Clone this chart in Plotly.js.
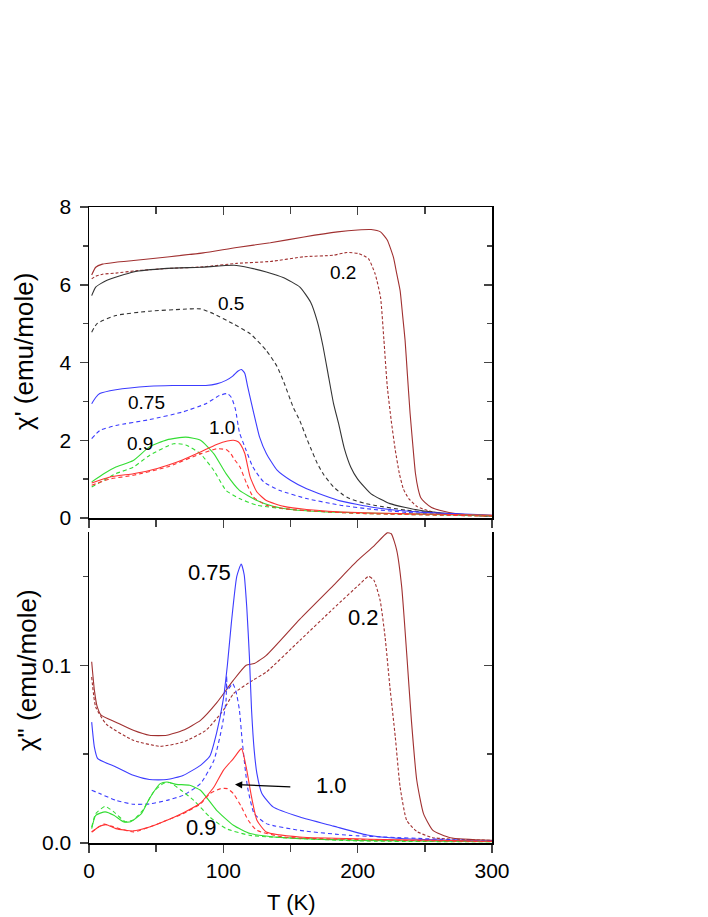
<!DOCTYPE html>
<html><head><meta charset="utf-8">
<script src="https://cdn.plot.ly/plotly-3.0.1.min.js"></script>
<style>html,body{margin:0;padding:0;background:#fff}#chart{width:708px;height:917px}</style>
</head><body><div id="chart"></div>
<script>
// ---------- chi' (top panel) ----------
var T_top_02_s = [2,5,10,20,35,60,85,110,135,160,185,200,210,217,222,226.6,229,231.6,233.5,235.3,237,239,241,243,245,247,250,255,261,275,300];
var Y_top_02_s = [6.25,6.45,6.53,6.58,6.63,6.72,6.82,6.96,7.08,7.23,7.36,7.41,7.42,7.36,7.15,6.71,6.3,5.85,5.2,4.57,3.7,2.7,1.9,1.15,0.75,0.52,0.4,0.27,0.2,0.1,0.05];
var T_top_02_d = [2,5,10,20,35,60,85,110,135,160,182,192,201,208,213,217,219.5,222,225,228,231,234,238,244,252,261,280,300];
var Y_top_02_d = [6.15,6.22,6.27,6.3,6.36,6.42,6.46,6.55,6.6,6.72,6.76,6.83,6.8,6.67,6.28,5.68,4.6,3.4,2.5,1.75,1.15,0.75,0.5,0.3,0.19,0.12,0.07,0.04];
var T_top_05_s = [2,5,13,33,58,83,108,120,132,145,157,165,170,174,178,182,186,190,195,200,210,224,246,270,300];
var Y_top_05_s = [5.72,5.94,6.11,6.33,6.42,6.45,6.5,6.43,6.33,6.18,5.94,5.55,5.05,4.45,3.7,2.95,2.4,1.8,1.3,1.0,0.62,0.37,0.2,0.11,0.06];
var T_top_05_d = [2,6,20,45,70,83,93,107,120,132,140,145,152,157,162,165,170,175,182,189,194,205,212,236,270,300];
var Y_top_05_d = [4.78,5.0,5.21,5.32,5.37,5.38,5.25,5.0,4.74,4.31,3.9,3.5,2.85,2.5,2.05,1.8,1.4,1.1,0.8,0.6,0.5,0.38,0.33,0.2,0.1,0.05];
var T_top_075_s = [2,5,8,20,45,62,87,95,102,107,111,113.5,116,118,121,124,127,132,140,150,162,175,187,212,246,300];
var Y_top_075_s = [2.94,3.1,3.2,3.3,3.39,3.41,3.41,3.45,3.54,3.65,3.78,3.82,3.72,3.4,2.94,2.5,2.08,1.66,1.23,0.97,0.75,0.58,0.44,0.27,0.15,0.07];
var T_top_075_d = [2,8,20,45,70,87,97,103,106,109,112,117,122,130,142,162,187,212,246,300];
var Y_top_075_d = [2.04,2.25,2.38,2.53,2.73,2.94,3.15,3.2,3.1,2.8,2.2,1.74,1.31,0.93,0.71,0.5,0.33,0.22,0.12,0.06];
var T_top_09_s = [2,11,20,33,45,58,72,83,93,102,112,125,137,150,182,246,300];
var Y_top_09_s = [0.93,1.14,1.31,1.48,1.83,2.01,2.08,2.0,1.65,1.14,0.71,0.45,0.3,0.22,0.15,0.1,0.06];
var T_top_09_d = [2,11,20,33,45,63,72,83,93,102,112,125,150,200,300];
var Y_top_09_d = [0.8,0.97,1.14,1.31,1.61,1.91,1.88,1.65,1.22,0.71,0.5,0.33,0.22,0.12,0.05];
var T_top_10_s = [2,15,33,45,58,70,83,95,103,107.5,111,113,116,118,120,125,132,145,162,200,300];
var Y_top_10_s = [0.9,1.05,1.14,1.22,1.35,1.5,1.7,1.89,1.98,2.0,1.96,1.88,1.66,1.35,1.05,0.67,0.45,0.3,0.22,0.14,0.07];
var T_top_10_d = [2,15,33,58,83,95,102,105,108,112.4,117.4,122.3,132,150,200,300];
var Y_top_10_d = [0.84,1.0,1.1,1.31,1.65,1.78,1.76,1.68,1.52,1.31,0.88,0.54,0.33,0.22,0.12,0.05];

// ---------- chi'' (bottom panel) ----------
var T_bot_02_s = [2,4,6,9,20,33,45,58,70,83,95,107.5,117,123,132,157,182,200,212,222,225,229,232.8,236.5,240,244,249,256,269,300];
var Y_bot_02_s = [0.102,0.086,0.077,0.072,0.068,0.0634,0.0606,0.0606,0.0634,0.069,0.0788,0.0916,0.1,0.101,0.1056,0.126,0.145,0.159,0.167,0.1745,0.174,0.165,0.144,0.1066,0.069,0.0353,0.0165,0.0071,0.003,0.0015];
var T_bot_02_d = [2,5,13,33,53,70,87,100,107.5,122,132,157,182,202,208,212,216.7,220.4,224,228,231.6,236.5,244,256,300];
var Y_bot_02_d = [0.0934,0.0765,0.0668,0.0578,0.0544,0.0568,0.0634,0.0747,0.084,0.0916,0.0962,0.114,0.132,0.146,0.150,0.148,0.1366,0.116,0.0878,0.0597,0.0315,0.0128,0.0065,0.003,0.0015];
var T_bot_075_s = [2,4,6.5,20,33,45,58,70,83,90,95,100,103,106,110,113.3,115.5,117.5,119.4,121,123,125,128.6,137,157,182,207,232,300];
var Y_bot_075_s = [0.068,0.054,0.0475,0.0428,0.0381,0.0357,0.0357,0.038,0.0437,0.049,0.062,0.081,0.1,0.124,0.15,0.157,0.151,0.132,0.105,0.075,0.052,0.039,0.028,0.0203,0.0146,0.0095,0.0045,0.0025,0.001];
var T_bot_075_d = [2,8,20,33,45,58,70,83,93,99,102,102.5,103,107,109.5,112,114,118,123,132,157,194,300];
var Y_bot_075_d = [0.0297,0.0278,0.024,0.0218,0.022,0.024,0.0268,0.0334,0.0465,0.0653,0.08,0.094,0.086,0.0897,0.085,0.0747,0.0578,0.0315,0.0165,0.0109,0.0071,0.0043,0.001];
var T_bot_09_s = [2,5,12,18.5,26,31,39,45,53,58,65,75,83,95,107.5,120,145,200,300];
var Y_bot_09_s = [0.0081,0.0156,0.0175,0.0156,0.0118,0.012,0.0165,0.025,0.0334,0.0343,0.033,0.0325,0.0297,0.0184,0.01,0.0053,0.003,0.0015,0.0008];
var T_bot_09_d = [2,5,12,18.5,27,33,40,48,55,60,68,78,90,102,120,200,300];
var Y_bot_09_d = [0.009,0.0165,0.0206,0.0175,0.012,0.013,0.0184,0.0287,0.0334,0.034,0.030,0.024,0.0146,0.0081,0.0043,0.0012,0.0007];
var T_bot_10_s = [2,8,13,20,33,45,58,70,83,93,100,107.5,113.5,117,121,125,132,157,300];
var Y_bot_10_s = [0.0062,0.0094,0.0103,0.0081,0.0068,0.009,0.0128,0.0169,0.0225,0.0315,0.0409,0.0475,0.0531,0.0428,0.0259,0.0128,0.0062,0.0034,0.001];
var T_bot_10_d = [2,11,18.5,33,45,58,70,83,90,98,103,107.5,113.5,118.5,125,145,300];
var Y_bot_10_d = [0.0062,0.0106,0.009,0.0062,0.009,0.0128,0.0165,0.022,0.0278,0.0306,0.0306,0.0278,0.0203,0.0128,0.0071,0.0034,0.0008];

// ---------- labels ----------
var topLabels = ['0.2','0.5','0.75','0.9','1.0'];
var topLabelT = [189,106,43,38,99];
var topLabelY = [6.32,5.51,2.98,1.91,2.32];
var botLabels = ['0.75','1.0','0.9','0.2'];
var botLabelT = [90,180.7,84,204];
var botLabelY = [0.152,0.0325,0.0087,0.127];
var arrowTail = [151,0.0315];
var arrowHead = [108.7,0.0329];

var C = {b02:'#a03030', b05:'#333333', b075:'#3c3cff', b09:'#33dd33', b10:'#ff3333'};
var FONT = 'Liberation Sans, Arial, Helvetica, sans-serif';

function tr(T,Y,color,dashed,xa,ya,dashPat){
  return {x:T,y:Y,type:'scatter',mode:'lines',xaxis:xa,yaxis:ya,
    line:{color:color,width:1.1,shape:'spline',smoothing:0.5,dash:dashed?(dashPat||'4px,3px'):'solid'},
    showlegend:false,hoverinfo:'skip'};
}
var data = [
  tr(T_top_02_s,Y_top_02_s,C.b02,false,'x2','y2'),
  tr(T_top_02_d,Y_top_02_d,C.b02,true,'x2','y2','3px,2px'),
  tr(T_top_05_s,Y_top_05_s,C.b05,false,'x2','y2'),
  tr(T_top_05_d,Y_top_05_d,C.b05,true,'x2','y2'),
  tr(T_top_075_s,Y_top_075_s,C.b075,false,'x2','y2'),
  tr(T_top_075_d,Y_top_075_d,C.b075,true,'x2','y2'),
  tr(T_top_09_s,Y_top_09_s,C.b09,false,'x2','y2'),
  tr(T_top_09_d,Y_top_09_d,C.b09,true,'x2','y2'),
  tr(T_top_10_s,Y_top_10_s,C.b10,false,'x2','y2'),
  tr(T_top_10_d,Y_top_10_d,C.b10,true,'x2','y2'),
  tr(T_bot_02_s,Y_bot_02_s,C.b02,false,'x','y'),
  tr(T_bot_02_d,Y_bot_02_d,C.b02,true,'x','y','3px,2px'),
  tr(T_bot_075_s,Y_bot_075_s,C.b075,false,'x','y'),
  tr(T_bot_075_d,Y_bot_075_d,C.b075,true,'x','y'),
  tr(T_bot_09_s,Y_bot_09_s,C.b09,false,'x','y'),
  tr(T_bot_09_d,Y_bot_09_d,C.b09,true,'x','y'),
  tr(T_bot_10_s,Y_bot_10_s,C.b10,false,'x','y'),
  tr(T_bot_10_d,Y_bot_10_d,C.b10,true,'x','y'),
  // empty traces so the overlay (mirror) axes get drawn
  {x:[],y:[],type:'scatter',mode:'lines',xaxis:'x',yaxis:'y3',showlegend:false,hoverinfo:'skip'},
  {x:[],y:[],type:'scatter',mode:'lines',xaxis:'x2',yaxis:'y4',showlegend:false,hoverinfo:'skip'},
  {x:[],y:[],type:'scatter',mode:'lines',xaxis:'x3',yaxis:'y2',showlegend:false,hoverinfo:'skip'}
];

var tickFont = {family:FONT,size:21,color:'#000'};
var LW = 1.5;
var layout = {
  width:708,height:917,
  margin:{l:89,r:216,t:207,b:74,pad:0},
  paper_bgcolor:'#fff',plot_bgcolor:'#fff',
  font:{family:FONT,color:'#000'},
  showlegend:false,
  xaxis:{anchor:'y',domain:[0,1],range:[0,300],dtick:100,tick0:0,ticks:'outside',ticklen:8,tickwidth:LW,
    showline:true,linewidth:LW,linecolor:'#000',showgrid:false,zeroline:false,tickfont:tickFont,
    minor:{dtick:50,ticks:'outside',ticklen:7,tickwidth:LW,showgrid:false}},
  yaxis:{anchor:'x',domain:[0,0.489],range:[0,0.175],dtick:0.1,tick0:0,tickformat:'.1f',ticks:'outside',ticklen:8,tickwidth:LW,
    ticklabelstandoff:4,
    showline:true,linewidth:LW,linecolor:'#000',showgrid:false,zeroline:false,tickfont:tickFont,
    minor:{dtick:0.05,ticks:'outside',ticklen:5,tickwidth:LW,showgrid:false}},
  yaxis3:{overlaying:'y',side:'right',anchor:'x',range:[0,0.175],dtick:0.1,tick0:0,ticks:'inside',ticklen:8,tickwidth:LW,
    showline:true,linewidth:LW,linecolor:'#000',showgrid:false,zeroline:false,showticklabels:false,
    minor:{dtick:0.05,ticks:'inside',ticklen:5,tickwidth:LW,showgrid:false}},
  xaxis2:{anchor:'y2',domain:[0,1],range:[0,300],dtick:100,tick0:0,ticks:'outside',ticklen:8,tickwidth:LW,
    showline:true,linewidth:LW,linecolor:'#000',showgrid:false,zeroline:false,showticklabels:false,
    minor:{dtick:50,ticks:'outside',ticklen:7,tickwidth:LW,showgrid:false}},
  xaxis3:{overlaying:'x2',side:'top',anchor:'y2',range:[0,300],dtick:100,tick0:0,ticks:'inside',ticklen:8,tickwidth:LW,
    showline:true,linewidth:LW,linecolor:'#000',showgrid:false,zeroline:false,showticklabels:false,
    minor:{dtick:50,ticks:'inside',ticklen:7,tickwidth:LW,showgrid:false}},
  yaxis2:{anchor:'x2',domain:[0.511,1],range:[0,8],dtick:2,tick0:0,ticks:'outside',ticklen:8,tickwidth:LW,
    ticklabelstandoff:4,
    showline:true,linewidth:LW,linecolor:'#000',showgrid:false,zeroline:false,tickfont:tickFont,
    minor:{dtick:1,ticks:'outside',ticklen:5,tickwidth:LW,showgrid:false}},
  yaxis4:{overlaying:'y2',side:'right',anchor:'x2',range:[0,8],dtick:2,tick0:0,ticks:'inside',ticklen:8,tickwidth:LW,
    showline:true,linewidth:LW,linecolor:'#000',showgrid:false,zeroline:false,showticklabels:false,
    minor:{dtick:1,ticks:'inside',ticklen:5,tickwidth:LW,showgrid:false}},
  annotations:[]
};

for (var i=0;i<topLabels.length;i++){
  layout.annotations.push({xref:'x2',yref:'y2',x:topLabelT[i],y:topLabelY[i],text:topLabels[i],showarrow:false,
    xanchor:'center',yanchor:'middle',font:{family:FONT,size:19,color:'#000'}});
}
for (var j=0;j<botLabels.length;j++){
  layout.annotations.push({xref:'x',yref:'y',x:botLabelT[j],y:botLabelY[j],text:botLabels[j],showarrow:false,
    xanchor:'center',yanchor:'middle',font:{family:FONT,size:22,color:'#000'}});
}
layout.annotations.push({xref:'x',yref:'y',x:arrowHead[0],y:arrowHead[1],axref:'x',ayref:'y',ax:arrowTail[0],ay:arrowTail[1],
  text:'',showarrow:true,arrowhead:2,arrowsize:1.2,arrowwidth:1.2,arrowcolor:'#000'});
// axis titles
layout.annotations.push({xref:'paper',yref:'paper',x:-0.1613,y:0.7736,text:"\u03c7' (emu/mole)",textangle:-90,showarrow:false,
  xanchor:'center',yanchor:'middle',font:{family:FONT,size:26,color:'#000'}});
layout.annotations.push({xref:'paper',yref:'paper',x:-0.1538,y:0.272,text:'\u03c7" (emu/mole)',textangle:-90,showarrow:false,
  xanchor:'center',yanchor:'middle',font:{family:FONT,size:26,color:'#000'}});
layout.annotations.push({xref:'paper',yref:'paper',x:0.501,y:-0.0943,text:'T (K)',showarrow:false,
  xanchor:'center',yanchor:'middle',font:{family:FONT,size:22,color:'#000'}});

Plotly.newPlot('chart',data,layout,{displayModeBar:false,staticPlot:true});
</script></body></html>
